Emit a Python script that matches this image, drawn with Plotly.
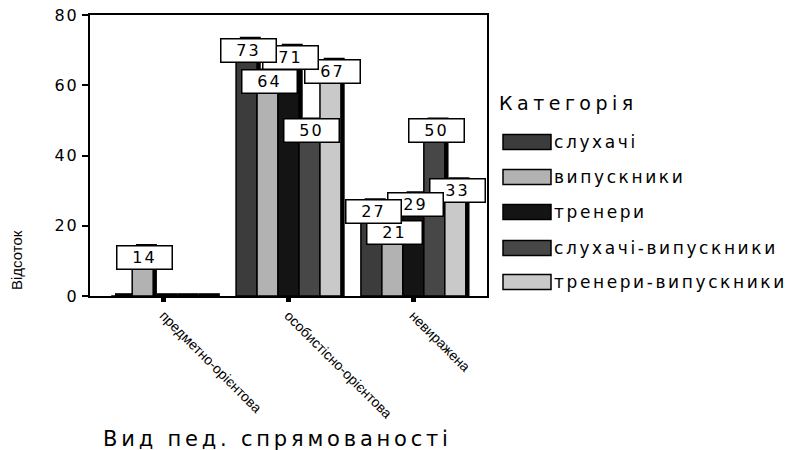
import plotly.graph_objects as go

categories = ["предметно-орієнтова", "особистісно-орієнтова", "невиражена"]
series_names = ["слухачі", "випускники", "тренери", "слухачі-випускники", "тренери-випускники"]
s_sluhachi = [0, 73, 27]
s_vypusknyky = [14, 64, 21]
s_trenery = [0, 71, 29]
s_sluh_vyp = [0, 50, 50]
s_tren_vyp = [0, 67, 33]
series_values = [s_sluhachi, s_vypusknyky, s_trenery, s_sluh_vyp, s_tren_vyp]
colors = ["#3c3c3c", "#b2b2b2", "#141414", "#474747", "#c9c9c9"]
yticks = [0, 20, 40, 60, 80]

W, H = 795, 450
L, R, T, B = 90, 487, 15, 296  # plot area in window pixels

def px(x):
    return (x - L) / (R - L)

def py(y):
    return (B - y) / (B - T)

def spaced(text, sp):
    return '<span style="letter-spacing:%gpx">%s</span>' % (sp, text)

FONT = "DejaVu Sans"
n = len(series_names)
group_w = 0.84
bw = group_w / n
depth_x = 0.03   # 3D depth of the bars (x units)
depth_y = 0.8    # 3D depth of the bars (y units)

fig = go.Figure()
xs = list(range(len(categories)))
# black 3D "depth" behind each bar
for i in range(n):
    fig.add_trace(go.Bar(
        x=xs, y=[v + depth_y for v in series_values[i]],
        offset=-group_w / 2 + i * bw + depth_x, width=bw,
        marker=dict(color="black", line=dict(width=0)),
        showlegend=False, hoverinfo="skip",
    ))
for i, name in enumerate(series_names):
    fig.add_trace(go.Bar(
        x=xs, y=series_values[i], name=name,
        offset=-group_w / 2 + i * bw, width=bw,
        marker=dict(color=colors[i], line=dict(color="black", width=1.5)),
        showlegend=False,
    ))

annotations = []
# value labels (last series drawn first so earlier ones lie on top)
for i in reversed(range(n)):
    for c, v in enumerate(series_values[i]):
        if v <= 0:
            continue
        annotations.append(dict(
            x=c - group_w / 2 + (i + 0.5) * bw, y=v, xref="x", yref="y",
            text=spaced(str(v), 2), showarrow=False, xanchor="center", yanchor="top",
            yshift=2, xshift=2,
            font=dict(family=FONT, size=16, color="black"),
            bgcolor="white", bordercolor="black", borderwidth=1.5,
            width=50, height=18, borderpad=2,
        ))

# y axis title
annotations.append(dict(
    x=px(16), y=py(260), xref="paper", yref="paper", text="Відсоток",
    xanchor="center", yanchor="middle",
    textangle=-90, showarrow=False,
    font=dict(family="Liberation Sans Narrow, Liberation Sans", size=15, color="black"),
))
# x axis title
annotations.append(dict(
    x=px(277), y=py(439), xref="paper", yref="paper",
    text=spaced("Вид пед. спрямованості", 3.8),
    xanchor="center", yanchor="middle",
    showarrow=False, font=dict(family=FONT, size=21, color="black"),
))
# legend title
annotations.append(dict(
    x=px(497), y=py(103), xref="paper", yref="paper", text=spaced("Категорія", 4.5),
    showarrow=False, xanchor="left", yanchor="middle",
    font=dict(family=FONT, size=19, color="black"),
))

shapes = []
item_y = [142, 177, 212, 248, 282]
for i, name in enumerate(series_names):
    shapes.append(dict(
        type="rect", xref="paper", yref="paper",
        x0=px(503), x1=px(551), y0=py(item_y[i] - 7.5), y1=py(item_y[i] + 7.5),
        fillcolor=colors[i], line=dict(color="black", width=1.5),
    ))
    annotations.append(dict(
        x=px(552), y=py(item_y[i]), xref="paper", yref="paper", text=spaced(name, 2.6),
        showarrow=False, xanchor="left", yanchor="middle",
        font=dict(family=FONT, size=17, color="black"),
    ))

fig.update_layout(
    width=W, height=H, autosize=False,
    margin=dict(l=L, r=W - R, t=T, b=H - B, pad=0),
    plot_bgcolor="white", paper_bgcolor="white",
    barmode="overlay",
    annotations=annotations, shapes=shapes,
    font=dict(family=FONT, color="black"),
)
fig.update_xaxes(
    range=[-0.59, 2.59], tickvals=xs, ticktext=categories, tickangle=45,
    showline=True, linecolor="black", linewidth=2, mirror=True,
    ticks="outside", ticklen=4, tickwidth=5, tickcolor="black",
    showgrid=False, zeroline=False, automargin=False,
    tickfont=dict(family="Liberation Sans Narrow, Liberation Sans", size=14, color="black"),
)
fig.update_yaxes(
    range=[0, 80], tickvals=yticks, ticktext=[spaced(str(t), 2) for t in yticks],
    showline=True, linecolor="black", linewidth=2, mirror=True,
    ticks="outside", ticklen=6, tickwidth=2, tickcolor="black",
    showgrid=False, zeroline=False, automargin=False,
    ticklabeloverflow="allow",
    tickfont=dict(family=FONT, size=16, color="black"),
)

fig.write_html(
    "out.html",
    config={"displayModeBar": False},
    post_script="document.body.style.margin='0';document.body.style.overflow='hidden';",
)
